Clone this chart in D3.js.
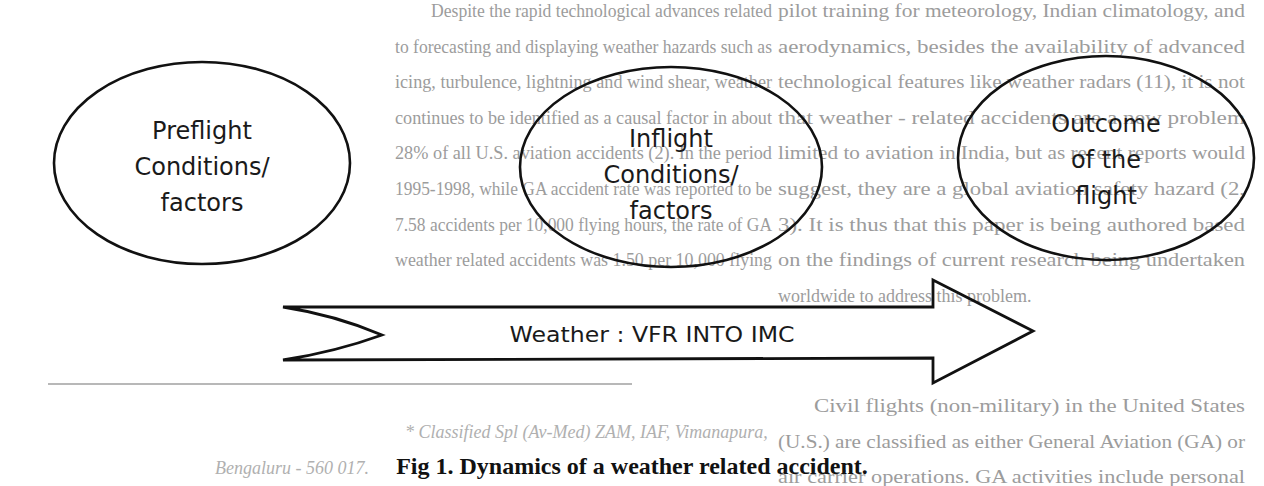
<!DOCTYPE html>
<html>
<head>
<meta charset="utf-8">
<script src="https://cdn.jsdelivr.net/npm/d3@7"></script>
<style>
  body { margin: 0; background: #fff; }
  svg { display: block; }
</style>
</head>
<body>
<script>
        var w = 1264;
        var h = 486;

        // diagram stages and their labels
        var stages = ["preflight", "inflight", "outcome"];
        var stageLabels = [
            ["Preflight", "Conditions/", "factors"],
            ["Inflight", "Conditions/", "factors"],
            ["Outcome", "of the", "flight"]
        ];
        var arrowLabel = "Weather : VFR INTO IMC";
        var caption = "Fig 1. Dynamics of a weather related accident.";

        // page text showing through the scan
        var middleColumn = [
            "Despite the rapid technological advances related",
            "to forecasting and displaying weather hazards such as",
            "icing, turbulence, lightning and wind shear, weather",
            "continues to be identified as a causal factor in about",
            "28% of all U.S. aviation accidents (2). In the period",
            "1995-1998, while GA accident rate was reported to be",
            "7.58 accidents per 10,000 flying hours, the rate of GA",
            "weather related accidents was 1.50 per 10,000 flying"
        ];
        var rightColumn = [
            "pilot training for meteorology, Indian climatology, and",
            "aerodynamics, besides the availability of advanced",
            "technological features like weather radars (11), it is not",
            "that weather - related accidents are a new problem",
            "limited to aviation in India, but as recent reports would",
            "suggest, they are a global aviation safety hazard (2,",
            "3). It is thus that this paper is being authored based",
            "on the findings of current research being undertaken",
            "worldwide to address this problem."
        ];
        var rightColumn2 = [
            "Civil flights (non-military) in the United States",
            "(U.S.) are classified as either General Aviation (GA) or",
            "air carrier operations. GA activities include personal"
        ];
        var footnote = [
            "*     Classified Spl (Av-Med) ZAM, IAF, Vimanapura,",
            "Bengaluru - 560 017."
        ];

        var svg = d3.select("body")
            .append("svg")
            .attr("width", w)
            .attr("height", h);

        // ---- background page text
        var lineY = d3.scaleLinear().domain([0, 1]).range([0, 35.6]);
        var pageText = svg.append("g")
            .attr("font-family", "Liberation Serif, serif")
            .attr("fill", "#9c9c9c");

        function column(lines, x0, x1, y0, indent, lastFree) {
            pageText.append("g").selectAll("text")
                .data(lines)
                .enter()
                .append("text")
                .attr("x", function(d, i) { return i === 0 ? x0 + indent : x0; })
                .attr("y", function(d, i) { return y0 + lineY(i); })
                .attr("font-size", "18px")
                .attr("textLength", function(d, i) {
                    if (lastFree && i === lines.length - 1) return null;
                    return (i === 0 ? x1 - x0 - indent : x1 - x0);
                })
                .attr("lengthAdjust", "spacingAndGlyphs")
                .text(function(d) { return d; });
        }
        column(middleColumn, 395, 772, 17, 36, false);
        column(rightColumn, 778, 1245, 17, 0, true);
        column(rightColumn2, 778, 1245, 412, 36, false);

        pageText.append("g").selectAll("text")
            .data(footnote)
            .enter()
            .append("text")
            .attr("x", function(d, i) { return i === 0 ? 405 : 215; })
            .attr("y", function(d, i) { return i === 0 ? 438 : 474; })
            .attr("font-size", "18px")
            .attr("font-style", "italic")
            .attr("fill", "#b0b0b0")
            .text(function(d) { return d; });

        // footnote rule
        svg.append("line")
            .attr("x1", 48).attr("x2", 632)
            .attr("y1", 384).attr("y2", 384)
            .attr("stroke", "#a0a0a0")
            .attr("stroke-width", 1.5);

        // ---- ellipses
        var cx = d3.scaleOrdinal().domain(stages).range([202, 671, 1106]);
        var cy = d3.scaleOrdinal().domain(stages).range([163, 167, 158]);
        var rx = d3.scaleOrdinal().domain(stages).range([148, 151, 148]);
        var ry = d3.scaleOrdinal().domain(stages).range([101, 100, 102]);
        var textShift = d3.scaleOrdinal().domain(stages).range([0, 4, -2]);

        svg.selectAll("ellipse")
            .data(stages)
            .enter()
            .append("ellipse")
            .attr("cx", function(d) { return cx(d); })
            .attr("cy", function(d) { return cy(d); })
            .attr("rx", function(d) { return rx(d); })
            .attr("ry", function(d) { return ry(d); })
            .attr("fill", "none")
            .attr("stroke", "#111")
            .attr("stroke-width", 2.6);

        var labelY = d3.scaleLinear().domain([0, 1]).range([-24, 12]);

        var labels = svg.selectAll(".stage")
            .data(stages)
            .enter()
            .append("text")
            .attr("class", "stage")
            .attr("text-anchor", "middle")
            .attr("font-family", "DejaVu Sans, sans-serif")
            .attr("font-size", "24px")
            .attr("fill", "#1a1a1a");

        labels.selectAll("tspan")
            .data(function(d, i) {
                return stageLabels[i].map(function(t, j) { return { stage: d, text: t, j: j }; });
            })
            .enter()
            .append("tspan")
            .attr("x", function(d) { return cx(d.stage); })
            .attr("y", function(d) { return cy(d.stage) + textShift(d.stage) + labelY(d.j); })
            .text(function(d) { return d.text; });

        // ---- arrow
        var ax = d3.scaleLinear().domain([0, 1]).range([283, 933]);
        var p = d3.path();
        p.moveTo(ax(0), 307);
        p.lineTo(ax(1), 307);
        p.lineTo(ax(1), 280);
        p.lineTo(1033, 331);
        p.lineTo(ax(1), 383);
        p.lineTo(ax(1), 358);
        p.lineTo(ax(0), 360);
        p.quadraticCurveTo(335, 352, 382, 335);
        p.quadraticCurveTo(335, 315, ax(0), 307);
        p.closePath();

        svg.append("path")
            .attr("d", p.toString())
            .attr("fill", "none")
            .attr("stroke", "#111")
            .attr("stroke-width", 2.8)
            .attr("stroke-linejoin", "miter");

        svg.append("text")
            .attr("x", 652)
            .attr("y", 342)
            .attr("text-anchor", "middle")
            .attr("font-family", "DejaVu Sans, sans-serif")
            .attr("font-size", "22px")
            .attr("textLength", 285)
            .attr("lengthAdjust", "spacingAndGlyphs")
            .attr("fill", "#1a1a1a")
            .text(arrowLabel);

        // caption
        svg.append("text")
            .attr("x", 632)
            .attr("y", 474)
            .attr("text-anchor", "middle")
            .attr("font-family", "Liberation Serif, serif")
            .attr("font-weight", "bold")
            .attr("font-size", "24px")
            .attr("fill", "#111")
            .text(caption);
</script>
</body>
</html>
